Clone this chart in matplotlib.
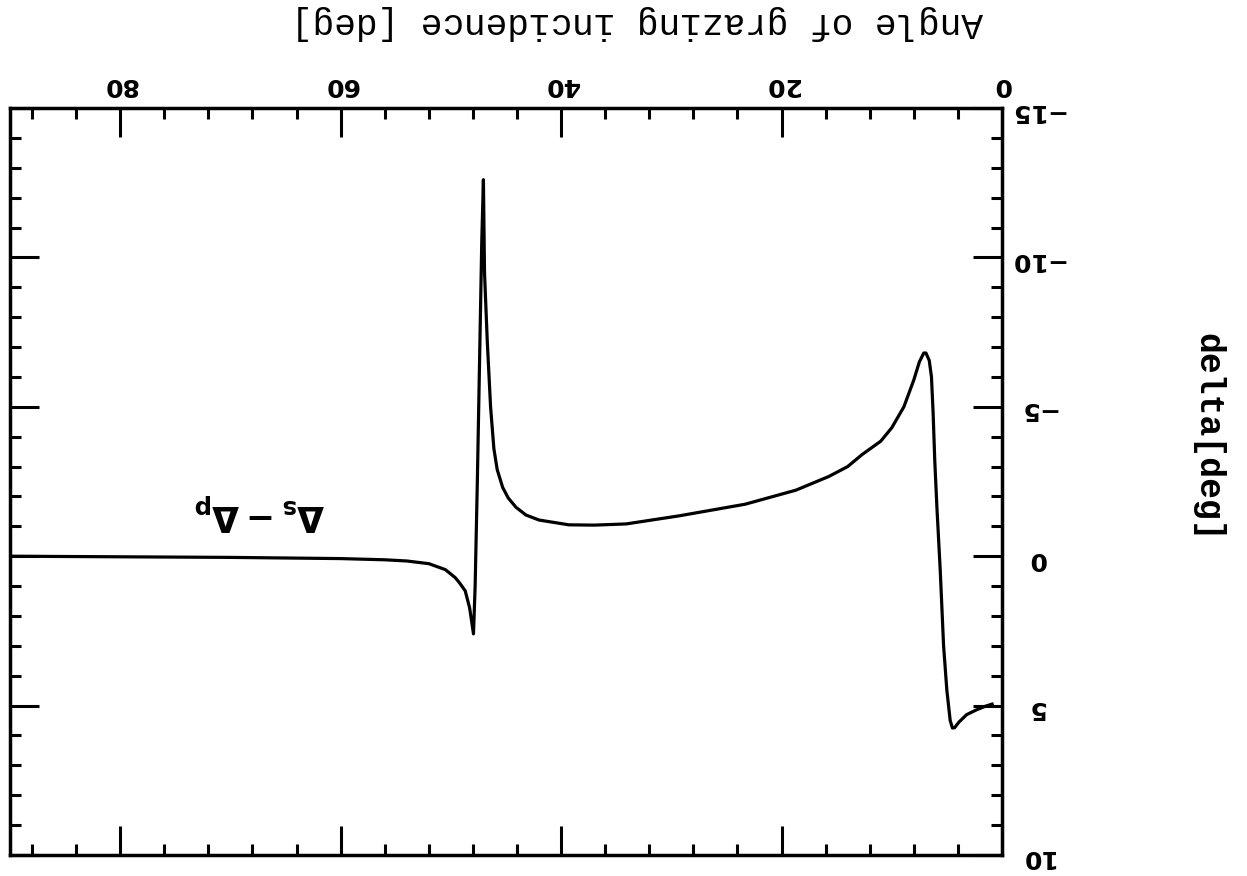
import matplotlib
matplotlib.use('Agg')
import matplotlib.pyplot as plt
from matplotlib.ticker import MultipleLocator, FixedLocator

# Data read from the (180°-rotated) scanned chart
angle = [0.9, 1.5, 2.3, 3.2, 3.9, 4.3, 4.5, 4.7, 5.0, 5.3, 5.6, 5.9, 6.1, 6.25, 6.4,
         6.6, 6.9, 7.1, 7.5, 8.0, 8.9, 10.0, 11.0, 12.7, 14.0, 15.7, 18.7, 23.3,
         29.3, 34.1, 37.0, 39.3, 42.0, 43.2, 44.1, 44.8, 45.3, 45.8, 46.1, 46.4, 46.7, 46.95,
         47.05, 47.2, 47.4, 47.6, 47.8, 47.95, 48.3, 48.7, 49.2, 49.6, 50.5, 52.0, 54.0,
         56.0, 60.0, 65.0, 70.0, 80.0, 89.9]
delta = [4.95, 5.02, 5.14, 5.30, 5.55, 5.74, 5.75, 5.5, 4.5, 3.0, 0.5, -1.6, -3.2, -4.8, -6.0,
         -6.55, -6.8, -6.8, -6.5, -5.9, -5.0, -4.3, -3.85, -3.4, -3.0, -2.67, -2.21, -1.74,
         -1.35, -1.08, -1.04, -1.05, -1.21, -1.38, -1.64, -1.95, -2.3, -2.9, -3.6, -5.0, -7.2, -9.5,
         -12.6, -10.5, -6.5, -2.5, 1.0, 2.6, 1.73, 1.16, 0.9, 0.72, 0.45, 0.25, 0.16,
         0.12, 0.08, 0.06, 0.04, 0.02, 0.0]

x_ticks = [0, 20, 40, 60, 80]
y_ticks = [-15, -10, -5, 0, 5, 10]
x_label = 'Angle of grazing incidence [deg]'
y_label = 'delta[deg]'
annotation = r'$\mathbf{\Delta_s - \Delta_p}$'

fig = plt.figure(figsize=(12.47, 8.76), dpi=100)
ax = fig.add_axes([10 / 1247, 1 - 855 / 876, 992 / 1247, 747 / 876])

ax.plot(angle, delta, color='black', lw=2.3, solid_joinstyle='round')

ax.set_xlim(90, 0)
ax.set_ylim(10, -15)

ax.xaxis.set_major_locator(FixedLocator(x_ticks))
ax.xaxis.set_minor_locator(MultipleLocator(4))
ax.yaxis.set_major_locator(FixedLocator(y_ticks))
ax.yaxis.set_minor_locator(MultipleLocator(1))

ax.tick_params(which='both', direction='in', top=True, bottom=True, left=True, right=True,
               labeltop=True, labelbottom=False, labelleft=False, labelright=True,
               labelrotation=180, color='black', labelsize=18)
ax.tick_params(which='major', length=21, width=2.2)
ax.tick_params(which='minor', length=8, width=2.2)
ax.tick_params(axis='x', pad=8)
ax.tick_params(axis='y', pad=25)

for s in ax.spines.values():
    s.set_linewidth(2.5)

plt.setp(ax.get_xticklabels(), fontweight='bold')
plt.setp(ax.get_yticklabels(), fontweight='bold', ha='center')

ax.xaxis.set_label_position('top')
xl = ax.set_xlabel(x_label, fontsize=26, family='Liberation Mono', rotation=180)
ax.xaxis.set_label_coords(0.632, 1.115)
xl.set_va('center')
xl.set_ha('center')
xl.set_rotation_mode('default')

ax.yaxis.set_label_position('right')
yl = ax.set_ylabel(y_label, fontsize=25, family='Liberation Mono', fontweight='bold', rotation=270)
ax.yaxis.set_label_coords(1.208, 0.5596)
yl.set_va('center')
yl.set_ha('center')
yl.set_rotation_mode('default')

ax.text(67.4, -1.5, annotation, fontsize=25, rotation=180, ha='center', va='center')

fig.savefig('out.png', dpi=100)
